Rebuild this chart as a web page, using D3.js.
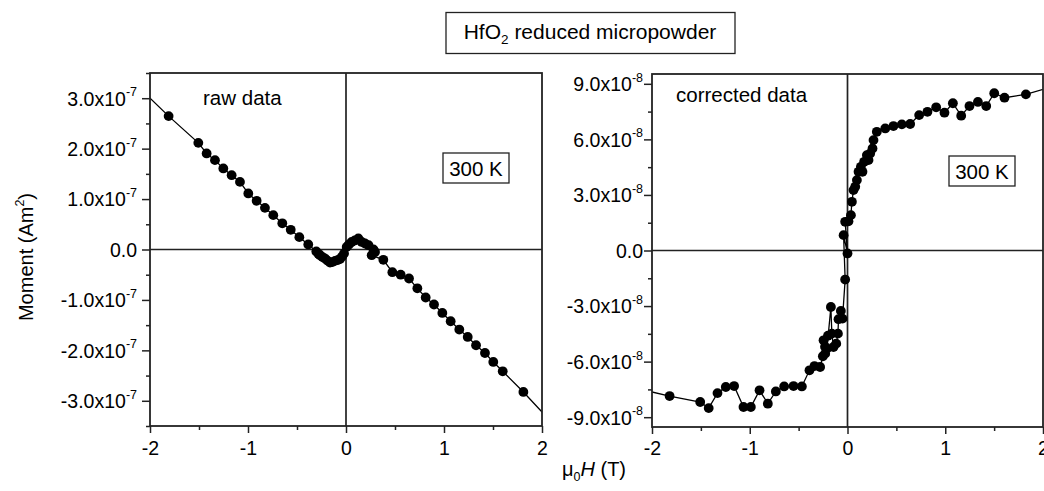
<!DOCTYPE html>
<html>
<head>
<meta charset="utf-8">
<script src="https://cdn.jsdelivr.net/npm/d3@7"></script>
<style>
  html, body { margin: 0; padding: 0; background: #fff; }
  svg { display: block; font-family: "Liberation Sans", Arial, Helvetica, sans-serif; }
</style>
</head>
<body>
<svg id="chart" width="1044" height="491"></svg>
<script>
// ---------- DATA ----------
// Left panel: raw data, field (T) and moment (Am^2)
const rawH = [-2.19, -1.81, -1.507, -1.422, -1.337, -1.252, -1.167, -1.082, -0.997, -0.912, -0.827, -0.742,
  -0.650, -0.564, -0.476, -0.385, -0.303, -0.28, -0.265, -0.24, -0.214, -0.19, -0.163, -0.14, -0.112, -0.085,
  -0.061, -0.04, -0.020, 0.007, 0.03, 0.058, 0.09, 0.126, 0.16, 0.194, 0.23, 0.28, 0.296, 0.262, 0.381, 0.473,
  0.558, 0.643, 0.728, 0.813, 0.898, 0.983, 1.068, 1.156, 1.242, 1.327, 1.418, 1.503, 1.599, 1.81, 2.19];
const rawM = [3.36e-7, 2.645e-7, 2.115e-7, 1.905e-7, 1.772e-7, 1.607e-7, 1.474e-7, 1.341e-7, 1.111e-7, 0.965e-7,
  0.826e-7, 0.681e-7, 0.52e-7, 0.39e-7, 0.245e-7, 0.10e-7, -0.04e-7, -0.09e-7, -0.113e-7, -0.15e-7, -0.179e-7,
  -0.22e-7, -0.26e-7, -0.25e-7, -0.226e-7, -0.21e-7, -0.19e-7, -0.14e-7, -0.079e-7, 0.052e-7, 0.10e-7, 0.15e-7,
  0.18e-7, 0.22e-7, 0.15e-7, 0.119e-7, 0.085e-7, 0.0, -0.05e-7, -0.113e-7, -0.205e-7, -0.45e-7, -0.50e-7,
  -0.575e-7, -0.77e-7, -0.952e-7, -1.091e-7, -1.258e-7, -1.423e-7, -1.587e-7, -1.734e-7, -1.899e-7, -2.052e-7,
  -2.230e-7, -2.415e-7, -2.825e-7, -3.62e-7];

// Right panel: corrected data
const corrH = [-2.19, -1.82, -1.507, -1.42, -1.33, -1.245, -1.16, -1.064, -0.989, -0.90, -0.815, -0.733, -0.648,
  -0.552, -0.467, -0.389, -0.338, -0.28, -0.252, -0.228, -0.23, -0.2, -0.245, -0.21, -0.17, -0.16, -0.143, -0.115,
  -0.098, -0.092, -0.068, -0.051, -0.024, -0.04, 0.0, -0.024, 0.01, 0.035, 0.045, 0.061, 0.079, 0.096, 0.113,
  0.137, 0.153, 0.17, 0.198, 0.215, 0.232, 0.256, 0.266, 0.30, 0.386, 0.47, 0.556, 0.641, 0.733, 0.818, 0.907,
  0.992, 1.078, 1.163, 1.248, 1.334, 1.419, 1.501, 1.606, 1.825, 2.19];
const corrM = [-7.41e-8, -7.86e-8, -8.18e-8, -8.51e-8, -7.70e-8, -7.37e-8, -7.32e-8, -8.45e-8, -8.45e-8, -7.55e-8,
  -8.27e-8, -7.61e-8, -7.34e-8, -7.32e-8, -7.34e-8, -6.47e-8, -6.24e-8, -6.29e-8, -5.71e-8, -5.57e-8, -5.2e-8,
  -4.6e-8, -4.85e-8, -5.3e-8, -3.05e-8, -4.49e-8, -5.21e-8, -5.03e-8, -4.49e-8, -3.71e-8, -3.26e-8, -3.68e-8,
  -1.57e-8, 0.83e-8, -0.16e-8, 1.55e-8, 1.58e-8, 1.91e-8, 2.63e-8, 3.26e-8, 3.44e-8, 3.80e-8, 4.25e-8, 4.52e-8,
  4.25e-8, 4.79e-8, 5.15e-8, 4.88e-8, 5.24e-8, 5.51e-8, 5.96e-8, 6.41e-8, 6.59e-8, 6.72e-8, 6.81e-8, 6.83e-8,
  7.31e-8, 7.49e-8, 7.73e-8, 7.44e-8, 7.95e-8, 7.28e-8, 7.80e-8, 8.02e-8, 7.80e-8, 8.49e-8, 8.25e-8, 8.43e-8,
  8.99e-8];

// Axis ticks
const xTicks = [-2, -1, 0, 1, 2];
const xMinorTicks = [-1.5, -0.5, 0.5, 1.5];
const leftYTicks = [-3e-7, -2e-7, -1e-7, 0, 1e-7, 2e-7, 3e-7];
const leftYMinor = [-3.5e-7, -2.5e-7, -1.5e-7, -0.5e-7, 0.5e-7, 1.5e-7, 2.5e-7, 3.5e-7];
const leftYExp = -7;
const rightYTicks = [-9e-8, -6e-8, -3e-8, 0, 3e-8, 6e-8, 9e-8];
const rightYMinor = [-7.5e-8, -4.5e-8, -1.5e-8, 1.5e-8, 4.5e-8, 7.5e-8];
const rightYExp = -8;

// Texts
const titleMain = "HfO";
const titleSub = "2";
const titleRest = " reduced micropowder";
const leftLabel = "raw data";
const rightLabel = "corrected data";
const tempLabel = "300 K";

// ---------- DRAW ----------
const svg = d3.select("#chart");
const FONT = 19.5;
const LABEL_FONT = 20.5;

function panel(id, box, xDom, yDom, H, M, yTicks, yMinor, yExp, label, labelPos, tempBox, labelGap) {
  const x = d3.scaleLinear().domain(xDom).range([box.x0, box.x1]);
  const y = d3.scaleLinear().domain(yDom).range([box.y1, box.y0]);
  const g = svg.append("g");

  svg.append("clipPath").attr("id", id).append("rect")
    .attr("x", box.x0).attr("y", box.y0).attr("width", box.x1 - box.x0).attr("height", box.y1 - box.y0);

  // zero lines
  g.append("line").attr("x1", box.x0).attr("x2", box.x1).attr("y1", y(0)).attr("y2", y(0))
    .attr("stroke", "#222").attr("stroke-width", 1.7);
  g.append("line").attr("x1", x(0)).attr("x2", x(0)).attr("y1", box.y0).attr("y2", box.y1)
    .attr("stroke", "#222").attr("stroke-width", 1.7);

  // data
  const pts = H.map((h, i) => [h, M[i]]);
  const dg = g.append("g").attr("clip-path", `url(#${id})`);
  dg.append("path").datum(pts)
    .attr("d", d3.line().x(d => x(d[0])).y(d => y(d[1])))
    .attr("fill", "none").attr("stroke", "#000").attr("stroke-width", 1.3);
  dg.selectAll("circle").data(pts.filter(d => d[0] > xDom[0] && d[0] < xDom[1])).join("circle")
    .attr("cx", d => x(d[0])).attr("cy", d => y(d[1])).attr("r", 4.9).attr("fill", "#000");

  // frame
  g.append("rect").attr("x", box.x0).attr("y", box.y0)
    .attr("width", box.x1 - box.x0).attr("height", box.y1 - box.y0)
    .attr("fill", "none").attr("stroke", "#222").attr("stroke-width", 1.8);

  // x axis
  const xa = g.append("g").attr("transform", `translate(0,${box.y1})`)
    .call(d3.axisBottom(x).tickValues(xTicks).tickSize(7).tickFormat(""));
  g.append("g").attr("transform", `translate(0,${box.y1})`)
    .call(d3.axisBottom(x).tickValues(xMinorTicks).tickSize(4).tickFormat(""));
  g.selectAll(".domain").remove();
  xa.selectAll(".tick").append("text")
    .attr("y", 455 - box.y1).attr("fill", "#000").attr("font-size", FONT)
    .attr("text-anchor", "middle").text(d => d);

  // y axis
  const ya = g.append("g").attr("transform", `translate(${box.x0},0)`)
    .call(d3.axisLeft(y).tickValues(yTicks).tickSize(8).tickFormat(""));
  const ym = g.append("g").attr("transform", `translate(${box.x0},0)`)
    .call(d3.axisLeft(y).tickValues(yMinor).tickSize(4).tickFormat(""));
  ya.select(".domain").remove();
  ym.select(".domain").remove();
  g.selectAll(".tick line").attr("stroke", "#222").attr("stroke-width", 1.5);
  ya.selectAll(".tick").each(function (d) {
    const t = d3.select(this).append("text").attr("fill", "#000").attr("font-size", FONT)
      .attr("text-anchor", "end").attr("x", -labelGap).attr("dy", "0.35em");
    if (d === 0) { t.text("0.0"); return; }
    const mant = d / Math.pow(10, yExp);
    t.append("tspan").text(mant.toFixed(1) + "x10");
    t.append("tspan").attr("font-size", 12.5).attr("dy", "-0.75em").text(String(yExp));
  });

  // labels
  g.append("text").attr("x", labelPos[0]).attr("y", labelPos[1]).attr("font-size", LABEL_FONT)
    .attr("fill", "#000").text(label);
  g.append("rect").attr("x", tempBox[0]).attr("y", tempBox[1]).attr("width", 66).attr("height", 30)
    .attr("fill", "#fff").attr("stroke", "#222").attr("stroke-width", 1.3);
  g.append("text").attr("x", tempBox[0] + 33).attr("y", tempBox[1] + 22.5).attr("font-size", LABEL_FONT)
    .attr("text-anchor", "middle").attr("fill", "#000").text(tempLabel);
}

panel("clipL", { x0: 150, x1: 542, y0: 73, y1: 426 }, [-2, 2], [-3.5e-7, 3.5e-7], rawH, rawM,
  leftYTicks, leftYMinor, leftYExp, leftLabel, [203, 105], [443, 153], 13);
panel("clipR", { x0: 652, x1: 1043, y0: 74, y1: 427 }, [-2, 2], [-9.53e-8, 9.53e-8], corrH, corrM,
  rightYTicks, rightYMinor, rightYExp, rightLabel, [676, 102], [949, 156], 9);

// title box
svg.append("rect").attr("x", 446).attr("y", 12.5).attr("width", 289).attr("height", 41)
  .attr("fill", "#fff").attr("stroke", "#222").attr("stroke-width", 1.3);
const tt = svg.append("text").attr("x", 590).attr("y", 39).attr("text-anchor", "middle")
  .attr("font-size", 21).attr("fill", "#000");
tt.append("tspan").text(titleMain);
tt.append("tspan").attr("font-size", 13.5).attr("dy", "0.35em").text(titleSub);
tt.append("tspan").attr("dy", "-0.23em").text(titleRest);

// y axis title
const yt = svg.append("text").attr("transform", "translate(33,257) rotate(-90)")
  .attr("text-anchor", "middle").attr("font-size", 20).attr("fill", "#000");
yt.append("tspan").text("Moment (Am");
yt.append("tspan").attr("font-size", 12.5).attr("dy", "-0.75em").text("2");
yt.append("tspan").attr("dy", "0.47em").text(")");

// x axis title
const xt = svg.append("text").attr("x", 562).attr("y", 476).attr("font-size", 20).attr("fill", "#000");
xt.append("tspan").text("μ");
xt.append("tspan").attr("font-size", 12.5).attr("dy", "0.4em").text("0");
xt.append("tspan").attr("dy", "-0.25em").attr("font-style", "italic").text("H");
xt.append("tspan").text(" (T)");
</script>
</body>
</html>
